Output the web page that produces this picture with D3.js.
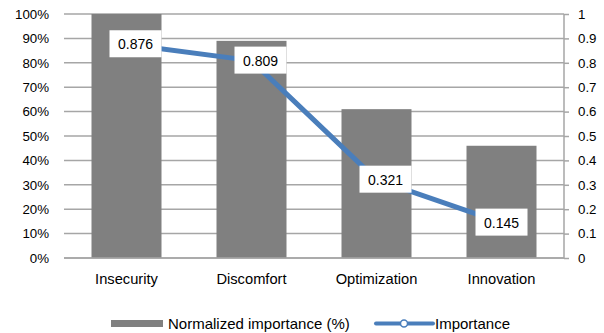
<!DOCTYPE html>
<html>
<head>
<meta charset="utf-8">
<script src="https://cdn.jsdelivr.net/npm/d3@7/dist/d3.min.js"></script>
<style>
  html, body { margin: 0; padding: 0; background: #fff; }
  svg { display: block; font-family: "Liberation Sans", Arial, sans-serif; }
</style>
</head>
<body>
<svg id="chart" width="604" height="333"></svg>
<script>
// Chart data
const categories = ["Insecurity", "Discomfort", "Optimization", "Innovation"];
const normalizedImportance = [100, 89, 61, 46];      // percent, left axis
const importance = [0.876, 0.809, 0.321, 0.145];     // right axis
const leftTicks = [0, 10, 20, 30, 40, 50, 60, 70, 80, 90, 100];
const rightTicks = [0, 0.1, 0.2, 0.3, 0.4, 0.5, 0.6, 0.7, 0.8, 0.9, 1];

const svg = d3.select("#chart");
const plot = { left: 64, right: 564, top: 14, bottom: 258 };
const font = "Liberation Sans, Arial, sans-serif";

const x = d3.scaleBand().domain(categories).range([plot.left, plot.right]).paddingInner(0.44).paddingOuter(0.22);
const xc = d => x(d) + x.bandwidth() / 2;
const yL = d3.scaleLinear().domain([0, 100]).range([plot.bottom, plot.top]);
const yR = d3.scaleLinear().domain([0, 1]).range([plot.bottom, plot.top]);

const grid = "#a6a6a6";
const textCol = "#000";

// Horizontal gridlines
svg.append("g").selectAll("line").data(leftTicks).join("line")
  .attr("x1", plot.left).attr("x2", plot.right)
  .attr("y1", d => yL(d)).attr("y2", d => yL(d))
  .attr("stroke", grid).attr("stroke-width", 1.5);

// Left axis labels
const leftAxis = d3.axisLeft(yL).tickValues(leftTicks).tickSize(0).tickPadding(15)
  .tickFormat(d => d + "%");
svg.append("g").attr("transform", `translate(${plot.left},0)`).call(leftAxis)
  .call(g => g.select(".domain").remove())
  .call(g => g.selectAll("text").attr("font-size", 13.3).attr("fill", textCol).attr("font-family", font));

// Right axis
const rightAxis = d3.axisRight(yR).tickValues(rightTicks).tickSize(5).tickPadding(9)
  .tickFormat(d => d === 0 || d === 1 ? String(d) : d3.format(".1f")(d));
svg.append("g").attr("transform", `translate(${plot.right},0)`).call(rightAxis)
  .call(g => g.select(".domain").attr("stroke", grid).attr("stroke-width", 1.5).attr("d", `M0,${plot.top}V${plot.bottom}`))
  .call(g => g.selectAll(".tick line").attr("stroke", grid).attr("stroke-width", 1.5))
  .call(g => g.selectAll("text").attr("font-size", 13.3).attr("fill", textCol).attr("font-family", font));

// Bars
svg.append("g").selectAll("rect").data(categories).join("rect")
  .attr("x", d => x(d))
  .attr("y", (d, i) => yL(normalizedImportance[i]))
  .attr("width", x.bandwidth())
  .attr("height", (d, i) => yL(0) - yL(normalizedImportance[i]))
  .attr("fill", "#808080");

// Bottom axis line
svg.append("line").attr("x1", plot.left).attr("x2", plot.right)
  .attr("y1", plot.bottom).attr("y2", plot.bottom)
  .attr("stroke", grid).attr("stroke-width", 1.5);

// Category labels
const bottomAxis = d3.axisBottom(x).tickSize(0).tickPadding(15.5);
svg.append("g").attr("transform", `translate(0,${plot.bottom})`).call(bottomAxis)
  .call(g => g.select(".domain").remove())
  .call(g => g.selectAll("text").attr("font-size", 14.7).attr("fill", textCol).attr("font-family", font));

// Importance line
const lineColor = "#4a7ebb";
const line = d3.line().x((d, i) => xc(categories[i])).y(d => yR(d));
svg.append("path").datum(importance)
  .attr("d", line).attr("fill", "none")
  .attr("stroke", lineColor).attr("stroke-width", 5).attr("stroke-linejoin", "round");

// Value labels in white boxes
const labelShift = [9, 9, 9, 0];
const labels = svg.append("g").selectAll("g").data(importance).join("g")
  .attr("transform", (d, i) => `translate(${xc(categories[i]) + labelShift[i]},${yR(d)})`);
labels.append("rect").attr("x", -26).attr("y", -14).attr("width", 52).attr("height", 27).attr("fill", "#fff");
labels.append("text").attr("text-anchor", "middle").attr("dy", "0.36em")
  .attr("font-size", 14).attr("fill", textCol).text(d => d3.format(".3f")(d));

// Legend
const legend = svg.append("g");
legend.append("rect").attr("x", 111).attr("y", 320).attr("width", 52).attr("height", 7).attr("fill", "#808080");
legend.append("text").attr("x", 168).attr("y", 328.5).attr("font-size", 15)
  .attr("fill", textCol).text("Normalized importance (%)");
legend.append("line").attr("x1", 376).attr("x2", 433).attr("y1", 323.5).attr("y2", 323.5)
  .attr("stroke", lineColor).attr("stroke-width", 4).attr("stroke-linecap", "round");
legend.append("circle").attr("cx", 404).attr("cy", 323.5).attr("r", 3.5)
  .attr("fill", "#fff").attr("stroke", lineColor).attr("stroke-width", 1.5);
legend.append("text").attr("x", 435).attr("y", 328.5).attr("font-size", 15)
  .attr("fill", textCol).text("Importance");
</script>
</body>
</html>
